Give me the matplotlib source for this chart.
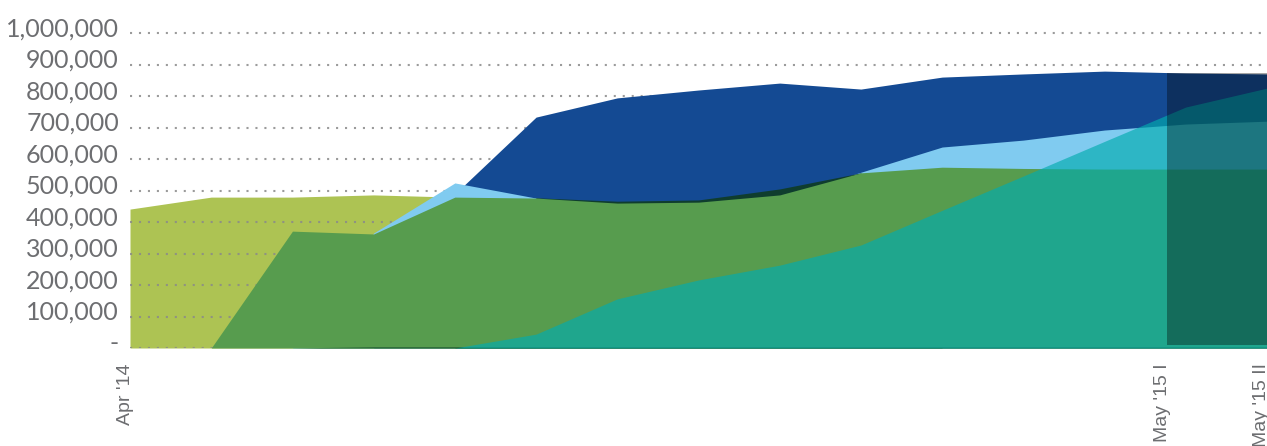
import matplotlib.pyplot as plt
from matplotlib.ticker import FuncFormatter
from matplotlib.transforms import ScaledTranslation

# Monthly points, Apr '14 onwards
months = list(range(15))

yellow_green = [441000, 479000, 479000, 486000, 479000, 0, 0, 0, 0, 0, 0, 0, 0, 0, 0]
dark_blue = [0, 0, 0, 0, 489000, 733000, 794000, 819000, 841000, 822000, 860000, 870000, 879000, 873000, 870000]
light_blue = [0, 0, 0, 365000, 524000, 476000, 455000, 458000, 480000, 558000, 638000, 660000, 692000, 711000, 720000]
dark_green = [0, 0, 0, 0, 0, 477000, 466000, 470000, 505000, 556000, 0, 0, 0, 0, 0]
green = [0, 0, 371000, 362000, 479000, 476000, 460000, 463000, 486000, 556000, 574000, 570000, 568000, 568000, 568000]
base_line = [0, 0, 0, 4500, 4500, 4500, 4500, 4500, 4500, 4500, 4500, 4500, 4500, 4500, 4500]
teal = [0, 0, 0, 0, 0, 44000, 156000, 216000, 263000, 327000, 437000, 546000, 656000, 765000, 825000]

# May '15 block (shaded)
may_block = [12.77, 14]
may_block_low = 10000
may_block_high = 873000

tick_pos = [0, 12.77, 14]
tick_labels = ["Apr '14", "May '15 I", "May '15 II"]
y_ticks = list(range(0, 1000001, 100000))

fig = plt.figure(figsize=(12.67, 4.46), dpi=100)
ax = fig.add_axes([130 / 1267, 1 - 348 / 446, 1 - 130 / 1267, 330.75 / 446])

# opaque areas, back to front
ax.fill_between(months, 0, yellow_green, color='#ADC353', lw=0, zorder=1)
ax.fill_between(months, 0, dark_blue, color='#144A93', lw=0, zorder=2)
ax.fill_between(months, 0, light_blue, color='#80CBF0', lw=0, zorder=3)
ax.fill_between(months, 0, dark_green, color='#0F3D2E', lw=0, zorder=4)
ax.fill_between(months, 0, green, color='#579C4E', lw=0, zorder=5)
ax.fill_between(months, 0, base_line, color='#2E6B3A', lw=0, zorder=5.5)

# dotted grid sits above the opaque areas but under teal
ax.set_yticks(y_ticks)
ax.yaxis.grid(True, color='#8A8A8A', linestyle=(0, (1, 3.3)), linewidth=1.5, alpha=0.85)
for gl in ax.get_ygridlines():
    gl.set_zorder(6)

ax.fill_between(months, 0, teal, color='#02ACAF', alpha=0.66, lw=0, zorder=7)
ax.fill_between(may_block, may_block_low, may_block_high, color='black', alpha=0.35, lw=0, zorder=8)

ax.set_xlim(0, 14)
ax.set_ylim(0, 1050000)

ax.yaxis.set_major_formatter(FuncFormatter(lambda v, p: '-' if v == 0 else f'{int(v):,}'))
ax.tick_params(axis='y', length=0, pad=8, labelsize=18, labelcolor='#6D6E71')
up = ScaledTranslation(0, 6 / 100, fig.dpi_scale_trans)
for lbl in ax.get_yticklabels():
    lbl.set_family('Lato')
    lbl.set_transform(lbl.get_transform() + up)

ax.set_xticks(tick_pos)
ax.set_xticklabels(tick_labels, rotation=90, fontsize=14, color='#6D6E71', family='Liberation Sans')
ax.tick_params(axis='x', length=0, pad=11)
shift = ScaledTranslation(-5 / 100, 0, fig.dpi_scale_trans)
for lbl in ax.get_xticklabels():
    lbl.set_transform(lbl.get_transform() + shift)

for s in ax.spines.values():
    s.set_visible(False)

plt.savefig('out.png', dpi=100)
plt.close()
